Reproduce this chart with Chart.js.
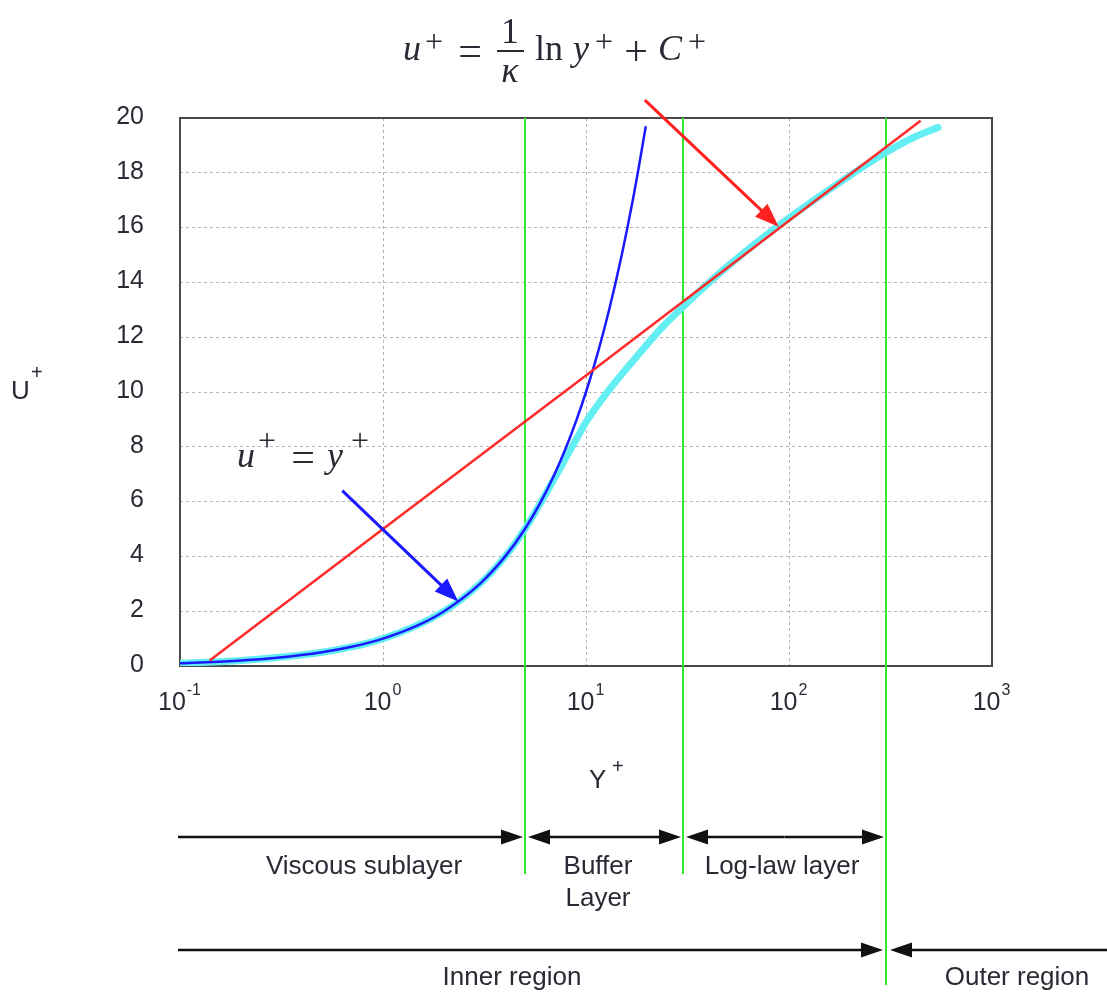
<!DOCTYPE html>
<html>
<head>
<meta charset="utf-8">
<title>Law of the wall</title>
<script src="https://cdn.jsdelivr.net/npm/chart.js@4.4.1/dist/chart.umd.min.js"></script>
<style>
  html, body { margin: 0; padding: 0; background: #fff; }
  canvas { display: block; }
</style>
</head>
<body>
<canvas id="wallChart" width="1107" height="992"></canvas>
<script>
// values (x = y+, y = u+)
const linearYp = [0.1, 0.2, 0.3, 0.5, 0.7, 1, 1.5, 2, 3, 4, 5, 6, 7, 8, 9, 10, 11, 12, 13, 14, 15, 16, 17, 18, 19.7];
const linearUp = [0.1, 0.2, 0.3, 0.5, 0.7, 1, 1.5, 2, 3, 4, 5, 6, 7, 8, 9, 10, 11, 12, 13, 14, 15, 16, 17, 18, 19.7];

const logYp = [0.14, 1, 10, 100, 445];
const logUp = [0.2, 5.0, 10.6, 16.25, 19.9];

const profileYp = [0.1, 0.2, 0.5, 1, 2, 3, 4, 5, 6, 7, 7.5, 8, 8.5, 9, 10, 12.6, 17.8, 24, 30, 36.5, 50, 90, 207, 300, 408, 542];
const profileUp = [0.1, 0.2, 0.5, 1, 2, 3, 4, 5, 5.98, 6.85, 7.25, 7.63, 7.98, 8.3, 8.9, 9.95, 11.3, 12.4, 13.1, 13.7, 14.6, 16.1, 17.98, 18.74, 19.28, 19.65];

const yTicks = [0, 2, 4, 6, 8, 10, 12, 14, 16, 18, 20];
const xTicks = [0.1, 1, 10, 100, 1000];
const xTickExps = ['-1', '0', '1', '2', '3'];

// y+ where the layers change
const regionBounds = [5, 30, 300];

const toPoints = (xs, ys) => xs.map((v, i) => ({ x: v, y: ys[i] }));

const textColor = '#2a2a35';
const sans = '"Liberation Sans", Arial, sans-serif';
const serif = '"Liberation Serif", "Times New Roman", serif';

function drawArrow(ctx, x1, y1, x2, y2, hl, hw) {
  const ang = Math.atan2(y2 - y1, x2 - x1);
  const bx = x2 - hl * Math.cos(ang);
  const by = y2 - hl * Math.sin(ang);
  ctx.beginPath();
  ctx.moveTo(x1, y1);
  ctx.lineTo(bx + Math.cos(ang) * 2, by + Math.sin(ang) * 2);
  ctx.stroke();
  ctx.beginPath();
  ctx.moveTo(x2, y2);
  ctx.lineTo(bx + hw / 2 * Math.sin(ang), by - hw / 2 * Math.cos(ang));
  ctx.lineTo(bx - hw / 2 * Math.sin(ang), by + hw / 2 * Math.cos(ang));
  ctx.closePath();
  ctx.fill();
}

function txt(ctx, s, x, y, font, align) {
  ctx.font = font;
  ctx.textAlign = align || 'left';
  ctx.fillText(s, x, y);
}

const decorPlugin = {
  id: 'decor',
  beforeDatasetsDraw(chart) {
    const { ctx, chartArea: a, scales: { x } } = chart;
    ctx.save();
    ctx.strokeStyle = '#4a4a4a';
    ctx.lineWidth = 2;
    ctx.strokeRect(a.left, a.top, a.right - a.left, a.bottom - a.top);

    // green boundaries run down into the annotation area
    const ends = [a.bottom + 208, a.bottom + 208, a.bottom + 319];
    ctx.strokeStyle = '#30ea30';
    ctx.lineWidth = 2;
    regionBounds.forEach((b, i) => {
      const px = Math.round(x.getPixelForValue(b));
      ctx.beginPath();
      ctx.moveTo(px, a.top);
      ctx.lineTo(px, ends[i]);
      ctx.stroke();
    });
    ctx.restore();
  },
  afterDraw(chart) {
    const { ctx, chartArea: a, scales: { x, y } } = chart;
    ctx.save();
    ctx.fillStyle = textColor;

    // y tick labels
    ctx.textBaseline = 'middle';
    yTicks.forEach(v => txt(ctx, String(v), a.left - 36, y.getPixelForValue(v) - 1, '25px ' + sans, 'right'));
    ctx.textBaseline = 'alphabetic';

    // x tick labels 10^n
    xTicks.forEach((v, i) => {
      ctx.font = '25px ' + sans;
      const w1 = ctx.measureText('10').width;
      ctx.font = '16px ' + sans;
      const w2 = ctx.measureText(xTickExps[i]).width;
      const px = x.getPixelForValue(v);
      const left = px - (w1 + w2) / 2 - 1;
      txt(ctx, '10', left, a.bottom + 44, '25px ' + sans);
      txt(ctx, xTickExps[i], left + w1 + 1, a.bottom + 29, '16px ' + sans);
    });

    // axis titles
    txt(ctx, 'Y', 589, 788, '26px ' + sans);
    txt(ctx, '+', 612, 773, '20px ' + sans);
    txt(ctx, 'U', 11, 399, '26px ' + sans);
    txt(ctx, '+', 31, 379, '20px ' + sans);

    // formula at the top
    const it = 'italic 36px ' + serif;
    const rm = '36px ' + serif;
    const op = '42px ' + serif;
    const sup = '32px ' + serif;
    txt(ctx, 'u', 403, 60, it);
    txt(ctx, '+', 434, 52, sup, 'center');
    txt(ctx, '=', 470, 65, op, 'center');
    txt(ctx, '1', 510, 43, rm, 'center');
    ctx.fillRect(497, 50, 27, 2);
    txt(ctx, 'κ', 510, 82, it, 'center');
    txt(ctx, 'ln', 535, 60, rm);
    txt(ctx, 'y', 573, 60, it);
    txt(ctx, '+', 604, 52, sup, 'center');
    txt(ctx, '+', 636, 65, op, 'center');
    txt(ctx, 'C', 658, 60, it);
    txt(ctx, '+', 697, 52, sup, 'center');

    // u+ = y+ label
    txt(ctx, 'u', 237, 467, it);
    txt(ctx, '+', 267, 451, sup, 'center');
    txt(ctx, '=', 303, 471, op, 'center');
    txt(ctx, 'y', 327, 467, it);
    txt(ctx, '+', 360, 451, sup, 'center');

    // pointer arrows, anchored in data space
    ctx.strokeStyle = '#1a1aff';
    ctx.fillStyle = '#1a1aff';
    ctx.lineWidth = 3;
    drawArrow(ctx, x.getPixelForValue(0.63), y.getPixelForValue(6.4),
      x.getPixelForValue(2.35), y.getPixelForValue(2.35), 24, 18);
    ctx.strokeStyle = '#ff2020';
    ctx.fillStyle = '#ff2020';
    drawArrow(ctx, x.getPixelForValue(19.5), y.getPixelForValue(20.65),
      x.getPixelForValue(89), y.getPixelForValue(16.03), 24, 18);

    // layer arrows under the axis
    const b = regionBounds.map(v => Math.round(x.getPixelForValue(v)));
    const r1 = a.bottom + 171;
    const r2 = a.bottom + 284;
    ctx.strokeStyle = '#111';
    ctx.fillStyle = '#111';
    ctx.lineWidth = 2.5;
    drawArrow(ctx, 178, r1, b[0] - 2, r1, 22, 15);
    const mid1 = (b[0] + b[1]) / 2;
    drawArrow(ctx, mid1, r1, b[0] + 3, r1, 22, 15);
    drawArrow(ctx, mid1, r1, b[1] - 2, r1, 22, 15);
    const mid2 = (b[1] + b[2]) / 2;
    drawArrow(ctx, mid2, r1, b[1] + 3, r1, 22, 15);
    drawArrow(ctx, mid2, r1, b[2] - 2, r1, 22, 15);
    drawArrow(ctx, 178, r2, b[2] - 3, r2, 22, 15);
    drawArrow(ctx, 1107, r2, b[2] + 4, r2, 22, 15);

    ctx.fillStyle = textColor;
    const lf = '26px ' + sans;
    txt(ctx, 'Viscous sublayer', 364, 874, lf, 'center');
    txt(ctx, 'Buffer', 598, 874, lf, 'center');
    txt(ctx, 'Layer', 598, 906, lf, 'center');
    txt(ctx, 'Log-law layer', 782, 874, lf, 'center');
    txt(ctx, 'Inner region', 512, 985, lf, 'center');
    txt(ctx, 'Outer region', 1017, 985, lf, 'center');
    ctx.restore();
  }
};

new Chart(document.getElementById('wallChart'), {
  type: 'line',
  data: {
    datasets: [
      {
        label: 'profile',
        data: toPoints(profileYp, profileUp),
        borderColor: '#62eef2',
        borderWidth: 7,
        pointRadius: 0,
        cubicInterpolationMode: 'monotone',
        borderCapStyle: 'round',
        order: 3
      },
      {
        label: 'u+ = y+',
        data: toPoints(linearYp, linearUp),
        borderColor: '#1a1aff',
        borderWidth: 2.5,
        pointRadius: 0,
        cubicInterpolationMode: 'monotone',
        order: 2
      },
      {
        label: 'log law',
        data: toPoints(logYp, logUp),
        borderColor: '#ff2a2a',
        borderWidth: 2.5,
        pointRadius: 0,
        tension: 0,
        order: 1
      }
    ]
  },
  options: {
    responsive: false,
    animation: false,
    devicePixelRatio: 1,
    layout: { padding: { top: 118, right: 115, left: 0, bottom: 0 } },
    plugins: { legend: { display: false }, tooltip: { enabled: false } },
    scales: {
      x: {
        type: 'logarithmic',
        min: 0.1,
        max: 1000,
        afterBuildTicks: axis => { axis.ticks = xTicks.map(v => ({ value: v })); },
        afterFit: scale => { scale.height = 326; },
        ticks: { display: false },
        grid: { color: '#b5b5b5', lineWidth: 1, drawTicks: false },
        border: { display: false, dash: [3, 3] }
      },
      y: {
        min: 0,
        max: 20,
        afterBuildTicks: axis => { axis.ticks = yTicks.map(v => ({ value: v })); },
        afterFit: scale => { scale.width = 180; },
        ticks: { display: false },
        grid: { color: '#b5b5b5', lineWidth: 1, drawTicks: false },
        border: { display: false, dash: [3, 3] }
      }
    }
  },
  plugins: [decorPlugin]
});
</script>
</body>
</html>
